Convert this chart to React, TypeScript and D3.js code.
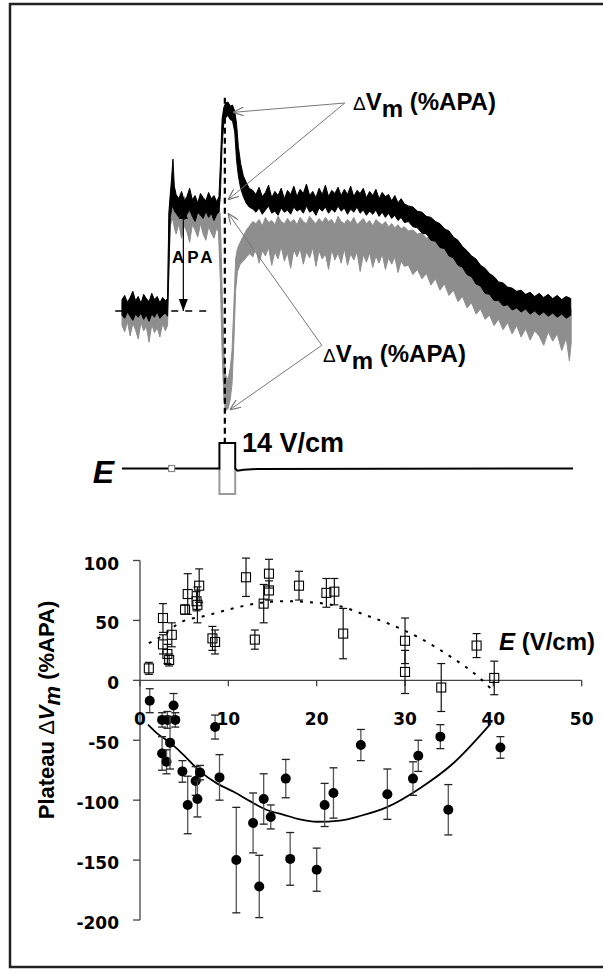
import React from 'react';
import * as d3 from 'd3';

// ---- bottom panel: plateau ΔVm vs field strength ----
// [E (V/cm), ΔVm (%APA), error]
const depolPoints: [number, number, number][] = [
  [1.0, 10, 5], [2.6, 30, 8], [2.6, 52, 12], [3.1, 22, 8], [3.3, 17, 5],
  [3.6, 38, 10], [5.1, 59, 4], [5.4, 72, 17], [6.4, 66, 8], [6.5, 63, 15],
  [6.7, 79, 14], [8.2, 35, 10], [8.5, 32, 10], [12.0, 86, 16], [13.0, 34, 8],
  [14.0, 64, 16], [14.6, 89, 12], [14.6, 75, 8], [18.0, 79, 12], [21.1, 73, 12],
  [22.0, 74, 11], [23.0, 39, 21], [30.0, 33, 19], [30.0, 7, 18], [34.1, -6, 20],
  [38.1, 29, 10], [40.1, 2, 14],
];

const hyperPoints: [number, number, number][] = [
  [1.1, -17, 10], [3.8, -21, 10], [2.5, -33, 6], [3.1, -33, 7], [4.0, -33, 6],
  [8.5, -39, 10], [2.5, -61, 14], [3.0, -68, 10], [3.4, -52, 22], [4.8, -76, 9],
  [5.4, -104, 24], [6.3, -84, 12], [6.5, -99, 15], [6.8, -77, 6], [9.0, -81, 19],
  [10.9, -150, 44], [12.8, -119, 25], [13.5, -172, 26], [14.0, -99, 21], [14.8, -114, 10],
  [16.5, -82, 16], [17.0, -149, 22], [20.0, -158, 18], [20.9, -104, 18], [21.9, -94, 21],
  [25.0, -54, 13], [28.0, -95, 21], [30.9, -82, 14], [31.5, -63, 13], [34.0, -47, 10],
  [34.9, -108, 21], [40.8, -56, 9],
];

// fitted curves
const depolFit: [number, number][] = [
  [1, 31], [2.5, 37], [4.5, 48], [7.5, 54], [10.5, 60], [14, 65], [16.6, 66], [19.6, 65],
  [23, 61], [25.7, 54], [28.9, 45], [32, 34], [35.1, 20], [38.3, 3], [40, -9],
];
const hyperFit: [number, number][] = [
  [0.9, -37], [1.9, -44], [3.4, -52], [4.9, -62], [6.8, -76], [8.7, -86], [10.6, -93],
  [12.5, -101], [14.3, -108], [16.2, -112], [18.1, -116], [20, -118], [22.6, -117],
  [25, -113], [27.9, -106], [31.7, -90], [35.5, -69], [39.6, -37],
];

const xTicks = [0, 10, 20, 30, 40, 50];
const yTicks = [100, 50, 0, -50, -100, -150, -200];

// ---- top panel: optical traces, [time, low, high] in %APA ----
const blackTrace: [number, number, number][] = [
  [0, -4, 11], [0.6, -7, 15], [1.2, -1, 8], [1.8, -5, 13], [2.4, -9, 19], [3, -3, 10],
  [3.6, -6, 14], [4.2, -2, 7], [4.8, -8, 16], [5.4, -4, 12], [6, -10, 9], [6.6, -3, 17],
  [7.2, -6, 11], [7.8, -1, 14], [8.4, -7, 8], [9, -4, 13], [9.6, -2, 10], [10.1, -5, 12],
  [10.4, 40, 95], [10.7, 90, 112], [11.0, 98, 128], [11.3, 102, 146], [11.6, 96, 120],
  [12, 94, 112], [12.6, 90, 108], [13.2, 96, 115], [13.8, 88, 106], [14.4, 93, 110],
  [15, 97, 118], [15.6, 91, 107], [16.2, 86, 111], [16.8, 95, 104], [17.4, 92, 113],
  [18, 89, 109], [18.6, 96, 106], [19.2, 90, 114], [19.8, 94, 108], [20.4, 87, 111],
  [21, 93, 105], [21.5, 95, 110],
  [21.8, 110, 140], [22.2, 160, 185], [22.6, 182, 196], [23, 186, 200], [23.5, 188, 201],
  [24, 184, 197], [24.5, 183, 198], [25.0, 172, 192], [25.4, 145, 180], [25.8, 130, 158],
  [26.3, 118, 142], [26.9, 110, 130], [27.5, 104, 124], [28.2, 100, 118],
  [29, 98, 116], [29.7, 95, 112], [30.4, 99, 119], [31.1, 93, 110], [31.8, 97, 114],
  [32.5, 101, 121], [33.2, 94, 109], [33.9, 96, 115], [34.6, 92, 111], [35.3, 99, 118],
  [36, 95, 108], [36.7, 97, 116], [37.4, 93, 112], [38.1, 100, 120], [38.8, 96, 110],
  [39.5, 98, 117], [40.2, 94, 113], [40.9, 101, 122], [41.6, 95, 111], [42.3, 97, 115],
  [43, 92, 109], [43.7, 99, 118], [44.4, 96, 112], [45.1, 100, 121], [45.8, 94, 110],
  [46.5, 98, 116], [47.2, 95, 113], [47.9, 101, 119], [48.6, 96, 111], [49.3, 99, 117],
  [50, 93, 112], [50.7, 98, 120], [51.4, 95, 110], [52.1, 100, 116], [52.8, 94, 113],
  [53.5, 97, 118], [54.2, 92, 109], [54.9, 96, 115], [55.6, 93, 111], [56.3, 97, 117],
  [57, 91, 108], [57.7, 95, 114], [58.4, 90, 110], [59.1, 94, 112], [59.8, 89, 106],
  [60.5, 92, 111], [61.2, 87, 104], [61.9, 90, 108], [62.6, 85, 103],
  [63.5, 86, 101], [64.5, 81, 100], [65.5, 80, 96], [66.5, 75, 95], [67.5, 74, 91],
  [68.5, 68, 90], [69.5, 67, 86], [70.5, 61, 84], [71.5, 60, 79], [72.5, 53, 77],
  [73.5, 51, 71], [74.5, 44, 68], [75.5, 42, 62], [76.5, 35, 58], [77.5, 33, 53],
  [78.5, 26, 50], [79.5, 24, 44], [80.5, 17, 41], [81.5, 16, 36], [82.5, 10, 33],
  [83.5, 10, 28], [84.5, 5, 27], [85.5, 6, 23], [86.5, 1, 22], [87.5, 3, 19],
  [88.5, -1, 20], [89.5, 2, 16], [90.5, -3, 18], [91.5, 0, 14], [92.5, -4, 17],
  [93.5, -1, 13], [94.5, -5, 16], [95.5, -2, 12], [96.5, -6, 15], [97.5, -3, 11],
  [98.5, -7, 14], [99.5, -4, 12],
];

const grayTrace: [number, number, number][] = [
  [0, -14, 8], [0.6, -20, 5], [1.2, -10, 10], [1.8, -24, 4], [2.4, -12, 9], [3, -18, 6],
  [3.6, -27, 3], [4.2, -11, 10], [4.8, -19, 5], [5.4, -15, 8], [6, -30, 4], [6.6, -13, 9],
  [7.2, -21, 6], [7.8, -16, 10], [8.4, -25, 3], [9, -12, 8], [9.6, -19, 5], [10.1, -14, 7],
  [10.4, 40, 90], [10.7, 82, 108], [11.0, 86, 120], [11.3, 88, 125], [11.6, 80, 112],
  [12, 74, 106], [12.6, 84, 109], [13.2, 70, 104], [13.8, 82, 110], [14.4, 76, 103],
  [15, 66, 107], [15.6, 83, 105], [16.2, 78, 109], [16.8, 71, 102], [17.4, 84, 108],
  [18, 74, 104], [18.6, 68, 106], [19.2, 81, 103], [19.8, 75, 108], [20.4, 70, 101],
  [21, 80, 105], [21.4, 76, 102],
  [21.8, 30, 92], [22.2, -40, 20], [22.6, -85, -40], [23, -96, -62], [23.5, -94, -66],
  [24, -85, -55], [24.4, -70, -38], [24.8, -30, 5], [25.2, 20, 50], [25.6, 38, 60],
  [26.2, 45, 66], [26.9, 48, 72], [27.6, 52, 78], [28.3, 55, 82],
  [29, 52, 86], [29.7, 60, 84], [30.4, 46, 88], [31.1, 58, 82], [31.8, 53, 90],
  [32.5, 61, 85], [33.2, 44, 87], [33.9, 57, 83], [34.6, 50, 91], [35.3, 62, 86],
  [36, 48, 84], [36.7, 56, 89], [37.4, 41, 85], [38.1, 59, 88], [38.8, 52, 83],
  [39.5, 60, 90], [40.2, 45, 86], [40.9, 57, 84], [41.6, 51, 91], [42.3, 61, 87],
  [43, 43, 84], [43.7, 58, 89], [44.4, 50, 85], [45.1, 55, 90], [45.8, 40, 86],
  [46.5, 59, 88], [47.2, 49, 83], [47.9, 56, 91], [48.6, 46, 86], [49.3, 60, 84],
  [50, 44, 88], [50.7, 55, 85], [51.4, 49, 90], [52.1, 57, 83], [52.8, 38, 86],
  [53.5, 54, 89], [54.2, 47, 84], [54.9, 56, 87], [55.6, 42, 82], [56.3, 53, 88],
  [57, 46, 85], [57.7, 55, 83], [58.4, 40, 86], [59.1, 51, 81], [59.8, 45, 84],
  [60.5, 52, 80], [61.2, 37, 83], [61.9, 48, 79], [62.6, 43, 81],
  [63.5, 44, 77], [64.5, 35, 78], [65.5, 40, 74], [66.5, 31, 75], [67.5, 36, 70],
  [68.5, 25, 71], [69.5, 31, 66], [70.5, 20, 67], [71.5, 26, 62], [72.5, 15, 63],
  [73.5, 20, 57], [74.5, 9, 56], [75.5, 14, 51], [76.5, 3, 50], [77.5, 8, 45],
  [78.5, -3, 43], [79.5, 2, 38], [80.5, -8, 35], [81.5, -4, 30], [82.5, -14, 27],
  [83.5, -8, 23], [84.5, -18, 21], [85.5, -11, 17], [86.5, -22, 15], [87.5, -14, 12],
  [88.5, -25, 13], [89.5, -17, 9], [90.5, -28, 10], [91.5, -19, 7], [92.5, -24, 9],
  [93.5, -33, 6], [94.5, -20, 8], [95.5, -29, 5], [96.5, -22, 7], [97.5, -38, 4],
  [98.5, -26, 6], [99.2, -48, 3], [99.6, -30, 2],
];

// field pulse traces [time, V/cm]
const fieldBlack: [number, number][] = [
  [0, 0], [21.6, 0], [21.6, 14], [25.1, 14], [25.1, 0], [25.6, -1.2], [27, -0.7], [30, -0.3], [100, 0],
];
const fieldGray: [number, number][] = [[21.6, 0], [21.6, -14], [25.1, -14], [25.1, 0]];

const bold = 'Liberation Sans, Arial, sans-serif';
const tickFont = 'DejaVu Sans, sans-serif';

const App: React.FC = () => {
  // bottom chart scales
  const x = d3.scaleLinear().domain([0, 50]).range([140, 581.7]);
  const y = d3.scaleLinear().domain([-200, 100]).range([920, 560.5]);

  // top panel scales
  const tX = d3.scaleLinear().domain([0, 100]).range([122, 573]);
  const vY = d3.scaleLinear().domain([0, 100]).range([311, 207]);
  const eY = d3.scaleLinear().domain([-14, 14]).range([494, 443]);

  const band = d3
    .area<[number, number, number]>()
    .x((d) => tX(d[0]))
    .y0((d) => vY(d[1]))
    .y1((d) => vY(d[2]));

  const fieldLine = d3
    .line<[number, number]>()
    .x((d) => tX(d[0]))
    .y((d) => eY(d[1]));

  const fitLine = d3
    .line<[number, number]>()
    .x((d) => x(d[0]))
    .y((d) => y(d[1]))
    .curve(d3.curveMonotoneX);

  const stimT = 22.8;
  const cap = 4;

  return (
    <svg width={603} height={975} style={{ position: 'absolute', left: 0, top: 0, background: '#fff' }}>
      <defs>
        <marker id="openHead" viewBox="0 0 10 10" refX="10" refY="5" markerWidth="11" markerHeight="9"
          markerUnits="userSpaceOnUse" orient="auto" preserveAspectRatio="none">
          <path d="M0,0 L10,5 L0,10" fill="none" stroke="#777" strokeWidth="1.3" />
        </marker>
        <marker id="solidHead" viewBox="0 0 10 10" refX="10" refY="5" markerWidth="12" markerHeight="9"
          markerUnits="userSpaceOnUse" orient="auto-start-reverse" preserveAspectRatio="none">
          <path d="M0,0 L10,5 L0,10 z" fill="#000" />
        </marker>
      </defs>

      {/* frame */}
      <rect x={10} y={4} width={620} height={963} fill="none" stroke="#222" strokeWidth={2.5} />

      {/* ---- top panel ---- */}
      <path d={band(grayTrace) ?? ''} fill="#8e8e8e" stroke="#8e8e8e" strokeWidth={1} />
      <path d={band(blackTrace) ?? ''} fill="#000" stroke="#000" strokeWidth={1} />

      {/* baseline */}
      <line x1={tX(-1.5)} x2={tX(20)} y1={vY(0)} y2={vY(0)} stroke="#000" strokeWidth={1.5} strokeDasharray="7,7" />

      {/* APA arrow */}
      <line x1={tX(13.6)} x2={tX(13.6)} y1={vY(100)} y2={vY(0)} stroke="#000" strokeWidth={1.2}
        markerStart="url(#solidHead)" markerEnd="url(#solidHead)" />
      <text x={172} y={263} fontFamily={bold} fontWeight="bold" fontSize={17} letterSpacing={3}>APA</text>

      {/* stimulus time */}
      <line x1={tX(stimT)} x2={tX(stimT)} y1={vY(205)} y2={eY(14)} stroke="#000" strokeWidth={2.2} strokeDasharray="6,4" />

      {/* annotation arrows */}
      <line x1={tX(49.4)} y1={vY(200)} x2={tX(24.6)} y2={vY(191)} stroke="#777" strokeWidth={1} markerEnd="url(#openHead)" />
      <line x1={tX(49.4)} y1={vY(200)} x2={tX(23.5)} y2={vY(107)} stroke="#777" strokeWidth={1} markerEnd="url(#openHead)" />
      <line x1={tX(44.3)} y1={vY(-33)} x2={tX(23.5)} y2={vY(94)} stroke="#777" strokeWidth={1} markerEnd="url(#openHead)" />
      <line x1={tX(44.3)} y1={vY(-33)} x2={tX(23.9)} y2={vY(-95)} stroke="#777" strokeWidth={1} markerEnd="url(#openHead)" />

      <text x={353} y={110} fontFamily={bold} fontWeight="bold" fontSize={24}>
        <tspan fontWeight="normal" fontSize={19}>Δ</tspan>
        <tspan>V</tspan>
        <tspan dy={7}>m</tspan>
        <tspan dy={-7}> (%APA)</tspan>
      </text>
      <text x={323} y={362} fontFamily={bold} fontWeight="bold" fontSize={24}>
        <tspan fontWeight="normal" fontSize={19}>Δ</tspan>
        <tspan>V</tspan>
        <tspan dy={7}>m</tspan>
        <tspan dy={-7}> (%APA)</tspan>
      </text>

      {/* field trace */}
      <path d={fieldLine(fieldGray) ?? ''} fill="none" stroke="#9a9a9a" strokeWidth={2} />
      <path d={fieldLine(fieldBlack) ?? ''} fill="none" stroke="#000" strokeWidth={2} />
      <rect x={tX(11) - 3} y={eY(0) - 3} width={6} height={6} fill="#fff" stroke="#888" strokeWidth={1.2} />
      <text x={114} y={483} textAnchor="end" fontFamily={bold} fontWeight="bold" fontStyle="italic" fontSize={32}>E</text>
      <text x={242} y={452} fontFamily={bold} fontWeight="bold" fontSize={27}>14 V/cm</text>

      {/* ---- bottom chart ---- */}
      <line x1={x(0)} x2={x(0)} y1={y(100)} y2={y(-200)} stroke="#444" strokeWidth={1.3} />
      {yTicks.map((t) => (
        <g key={`yt${t}`}>
          <line x1={x(0) - 7} x2={x(0)} y1={y(t)} y2={y(t)} stroke="#444" strokeWidth={1.3} />
          <text x={119} y={y(t) + 9} textAnchor="end" fontFamily={tickFont} fontWeight="bold" fontSize={17}>{t}</text>
        </g>
      ))}
      <line x1={x(0)} x2={x(50)} y1={y(0)} y2={y(0)} stroke="#444" strokeWidth={1.3} />
      {xTicks.map((t) => (
        <g key={`xt${t}`}>
          <line x1={x(t)} x2={x(t)} y1={y(0)} y2={y(0) + 6} stroke="#444" strokeWidth={1.3} />
          <text x={x(t)} y={y(0) + 45} textAnchor="middle" fontFamily={tickFont} fontWeight="bold" fontSize={17}>{t}</text>
        </g>
      ))}

      <text transform={`translate(54, 710) rotate(-90)`} textAnchor="middle" fontFamily={bold} fontWeight="bold" fontSize={22}>
        Plateau <tspan fontWeight="normal">Δ</tspan>
        <tspan fontStyle="italic">V</tspan>
        <tspan fontStyle="italic" dy={6}>m</tspan>
        <tspan dy={-6}> (%APA)</tspan>
      </text>
      <text x={499} y={650} fontFamily={bold} fontWeight="bold" fontSize={24}>
        <tspan fontStyle="italic">E</tspan> (V/cm)
      </text>

      {/* fits */}
      <path d={fitLine(depolFit) ?? ''} fill="none" stroke="#000" strokeWidth={2} strokeDasharray="3,7" />
      <path d={fitLine(hyperFit) ?? ''} fill="none" stroke="#000" strokeWidth={1.8} />

      {/* hyperpolarizing points */}
      {hyperPoints.map(([e, v, err], i) => (
        <g key={`h${i}`}>
          <line x1={x(e)} x2={x(e)} y1={y(v + err)} y2={y(v - err)} stroke="#555" strokeWidth={1.3} />
          <line x1={x(e) - cap} x2={x(e) + cap} y1={y(v + err)} y2={y(v + err)} stroke="#222" strokeWidth={1.3} />
          <line x1={x(e) - cap} x2={x(e) + cap} y1={y(v - err)} y2={y(v - err)} stroke="#222" strokeWidth={1.3} />
          <circle cx={x(e)} cy={y(v)} r={5} fill="#000" />
        </g>
      ))}

      {/* depolarizing points */}
      {depolPoints.map(([e, v, err], i) => (
        <g key={`d${i}`}>
          <line x1={x(e)} x2={x(e)} y1={y(v + err)} y2={y(v - err)} stroke="#111" strokeWidth={1.2} />
          <line x1={x(e) - cap} x2={x(e) + cap} y1={y(v + err)} y2={y(v + err)} stroke="#111" strokeWidth={1.2} />
          <line x1={x(e) - cap} x2={x(e) + cap} y1={y(v - err)} y2={y(v - err)} stroke="#111" strokeWidth={1.2} />
          <rect x={x(e) - 4.5} y={y(v) - 4.5} width={9} height={9} fill="none" stroke="#000" strokeWidth={1.1} />
        </g>
      ))}
    </svg>
  );
};

export default App;
